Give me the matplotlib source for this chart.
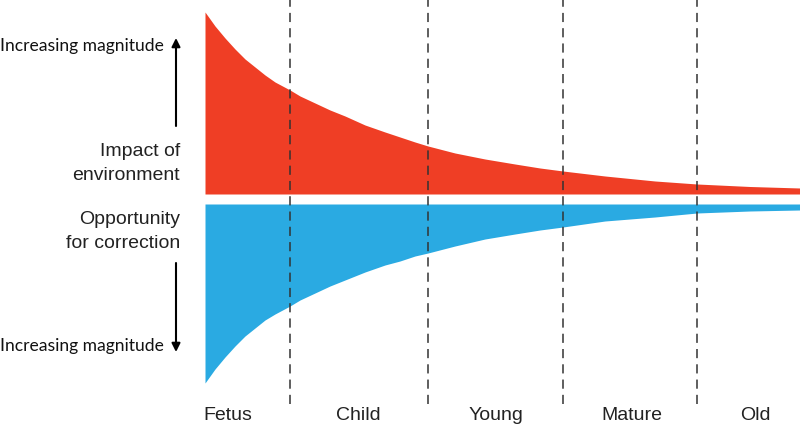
import numpy as np
import matplotlib.pyplot as plt
from matplotlib.patches import FancyArrowPatch

# life course position (arbitrary units) and magnitudes
age = [0, 10, 20, 30, 40, 50, 60, 70, 85, 95, 110, 125, 140, 160, 180, 195, 210,
       223, 250, 280, 310, 335, 358, 400, 450, 492, 545, 595]
impact = [182, 168, 156, 145, 135, 127, 119, 112, 104, 98, 91, 84, 78, 69, 62, 57, 52,
          48, 41, 35, 30, 26, 23, 18, 13, 10, 7.5, 6]
correction = [179, 165, 153, 142, 132, 124, 116, 110, 102, 96, 89, 82, 76, 68, 61, 57, 52,
              49, 42, 35, 30, 26, 23, 17, 13, 9, 7, 6]

stages = ["Fetus", "Child", "Young", "Mature", "Old"]
stage_pos = [23, 153, 291, 427, 550]
dividers = [85, 223, 358, 492]

red = "#EF3E25"
blue = "#2AAAE2"
gap = 5

fig = plt.figure(figsize=(8, 4.29), dpi=100)
ax = fig.add_axes([205 / 800, 29 / 429, 595 / 800, 400 / 429])
ax.set_xlim(0, 595)
ax.set_ylim(-201, 199)
ax.axis("off")

x = np.array(age)
ax.fill_between(x, gap, gap + np.array(impact), color=red, lw=0)
ax.fill_between(x, -gap, -gap - np.array(correction), color=blue, lw=0)

for d in dividers:
    ax.plot([d, d], [-205, 199], color="#333333", lw=1.1, ls=(0, (6, 4)), clip_on=False)

for s, p in zip(stages, stage_pos):
    ax.text(p, -216, s, ha="center", va="center", fontsize=14,
            family="Liberation Sans", color="#222222", clip_on=False)

# left annotation area in figure pixels
lab = fig.add_axes([0, 0, 1, 1], facecolor="none")
lab.set_xlim(0, 800)
lab.set_ylim(429, 0)
lab.axis("off")

for txt, yy in [("Impact of", 151), ("environment", 175),
                ("Opportunity", 220), ("for correction", 243)]:
    lab.text(180, yy, txt, ha="right", va="center", fontsize=14,
             family="Liberation Sans", color="#222222")

lab.text(164, 46, "Increasing magnitude", ha="right", va="center", fontsize=12.6,
         family="Lato", color="#111111")
lab.text(164, 346, "Increasing magnitude", ha="right", va="center", fontsize=12.6,
         family="Lato", color="#111111")

lab.add_patch(FancyArrowPatch((176, 126), (176, 38), arrowstyle="-|>,head_length=5,head_width=2.5",
                              color="black", lw=1.5, shrinkA=0, shrinkB=0))
lab.add_patch(FancyArrowPatch((176, 263), (176, 352), arrowstyle="-|>,head_length=5,head_width=2.5",
                              color="black", lw=1.5, shrinkA=0, shrinkB=0))

fig.savefig("out.png", dpi=100)
